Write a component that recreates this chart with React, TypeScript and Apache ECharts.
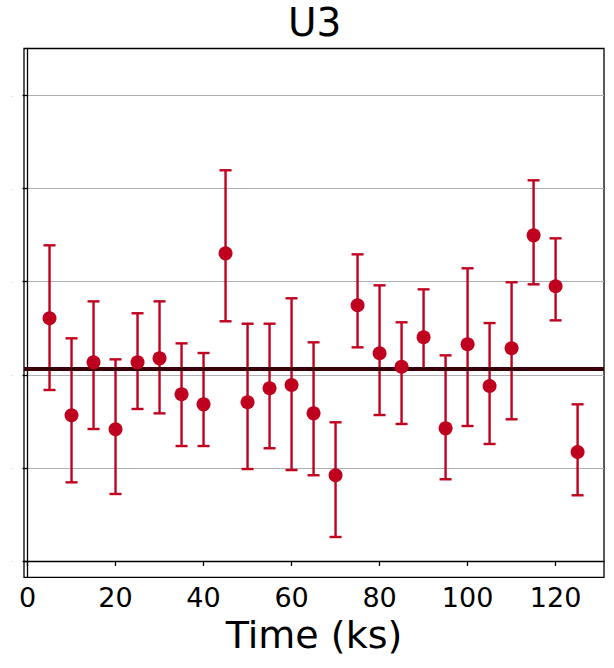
import React, { useEffect, useRef } from "react";
import * as echarts from "echarts";

const TITLE = "U3";
const X_NAME = "Time (ks)";
const times = [5, 10, 15, 20, 25, 30, 35, 40, 45, 50, 55, 60, 65, 70, 75, 80, 85, 90, 95, 100, 105, 110, 115, 120, 125];
const values = [2.607, 1.565, 2.134, 1.415, 2.134, 2.177, 1.791, 1.683, 3.305, 1.705, 1.855, 1.89, 1.586, 0.921, 2.747, 2.231, 2.087, 2.403, 1.425, 2.328, 1.88, 2.285, 3.498, 2.951, 1.171];
const lower = [1.837, 0.845, 1.418, 0.72, 1.633, 1.586, 1.235, 1.235, 2.575, 0.988, 1.211, 0.977, 0.921, 0.258, 2.295, 1.568, 1.472, 2.062, 0.878, 1.45, 1.257, 1.522, 2.972, 2.585, 0.706];
const upper = [3.391, 2.392, 2.789, 2.166, 2.661, 2.789, 2.338, 2.234, 4.197, 2.549, 2.549, 2.822, 2.349, 1.49, 3.294, 2.961, 2.564, 2.918, 2.209, 3.144, 2.556, 2.994, 4.089, 3.466, 1.683];
const meanValue = 2.073;
const xTicks = [0, 20, 40, 60, 80, 100, 120];
const yTicks = [0, 1, 2, 3, 4, 5];

const RED = "#c0001f";
const DARK = "#3a0009";
const FONT = "DejaVu Sans";

export default function App() {
  const ref = useRef<HTMLDivElement>(null);
  useEffect(() => {
    if (!ref.current) return;
    const chart = echarts.init(ref.current, null, { renderer: "svg" });
    const errData = times.map((t, i) => [t, lower[i], upper[i]]);
    const ptData = times.map((t, i) => [t, values[i]]);
    chart.setOption({
      animation: false,
      backgroundColor: "#ffffff",
      textStyle: { fontFamily: FONT },
      title: {
        text: TITLE,
        left: 288,
        top: 3,
        padding: 0,
        textStyle: { fontFamily: FONT, fontSize: 39, fontWeight: "normal", color: "#000" },
      },
      grid: {
        left: 24,
        right: 10,
        top: 48.5,
        bottom: 90.7,
        show: true,
        borderColor: "#000",
        borderWidth: 1.3,
        containLabel: false,
      },
      xAxis: {
        type: "value",
        min: -0.8,
        max: 131,
        name: X_NAME,
        nameLocation: "middle",
        nameGap: 38,
        nameTextStyle: { fontFamily: FONT, fontSize: 38, color: "#000" },
        axisLine: { show: true, lineStyle: { color: "#000", width: 1.3 } },
        axisTick: { show: true, length: 5, inside: false, customValues: xTicks, lineStyle: { color: "#000", width: 1.3 } },
        axisLabel: { customValues: xTicks, fontFamily: FONT, fontSize: 27, color: "#000", margin: 7 },
        splitLine: { show: false },
      },
      yAxis: {
        type: "value",
        min: -0.175,
        max: 5.505,
        axisLine: { show: true, lineStyle: { color: "#000", width: 1.3 } },
        axisTick: { show: true, length: 5, inside: false, customValues: yTicks, lineStyle: { color: "#000", width: 1.3 } },
        axisLabel: {
          customValues: yTicks,
          formatter: () => "-",
          fontFamily: FONT,
          fontSize: 5,
          color: "#999",
          margin: 11,
        },
        splitLine: { show: true, lineStyle: { color: "#b0b0b0", width: 1.2 } },
      },
      series: [
        {
          type: "custom",
          name: "error",
          data: errData,
          encode: { x: 0, y: [1, 2] },
          z: 2,
          renderItem: (params: any, api: any) => {
            const x = api.value(0);
            const lo = api.coord([x, api.value(1)]);
            const hi = api.coord([x, api.value(2)]);
            const hw = 6;
            const style = { stroke: RED, lineWidth: 2.4, opacity: 1 };
            return {
              type: "group",
              children: [
                { type: "line", shape: { x1: lo[0], y1: lo[1], x2: hi[0], y2: hi[1] }, style },
                { type: "line", shape: { x1: lo[0] - hw, y1: lo[1], x2: lo[0] + hw, y2: lo[1] }, style },
                { type: "line", shape: { x1: hi[0] - hw, y1: hi[1], x2: hi[0] + hw, y2: hi[1] }, style },
              ],
            };
          },
        },
        {
          type: "scatter",
          name: "rate",
          data: ptData,
          symbol: "circle",
          symbolSize: 14,
          itemStyle: { color: RED, opacity: 1 },
          z: 4,
          markLine: {
            silent: true,
            symbol: "none",
            label: { show: false },
            lineStyle: { color: DARK, width: 4, type: "solid", opacity: 1 },
            data: [{ yAxis: meanValue }],
            z: 3,
          },
        },
      ],
    });
    return () => chart.dispose();
  }, []);
  return <div ref={ref} style={{ position: "fixed", left: 0, top: 0, width: 614, height: 668 }} />;
}
